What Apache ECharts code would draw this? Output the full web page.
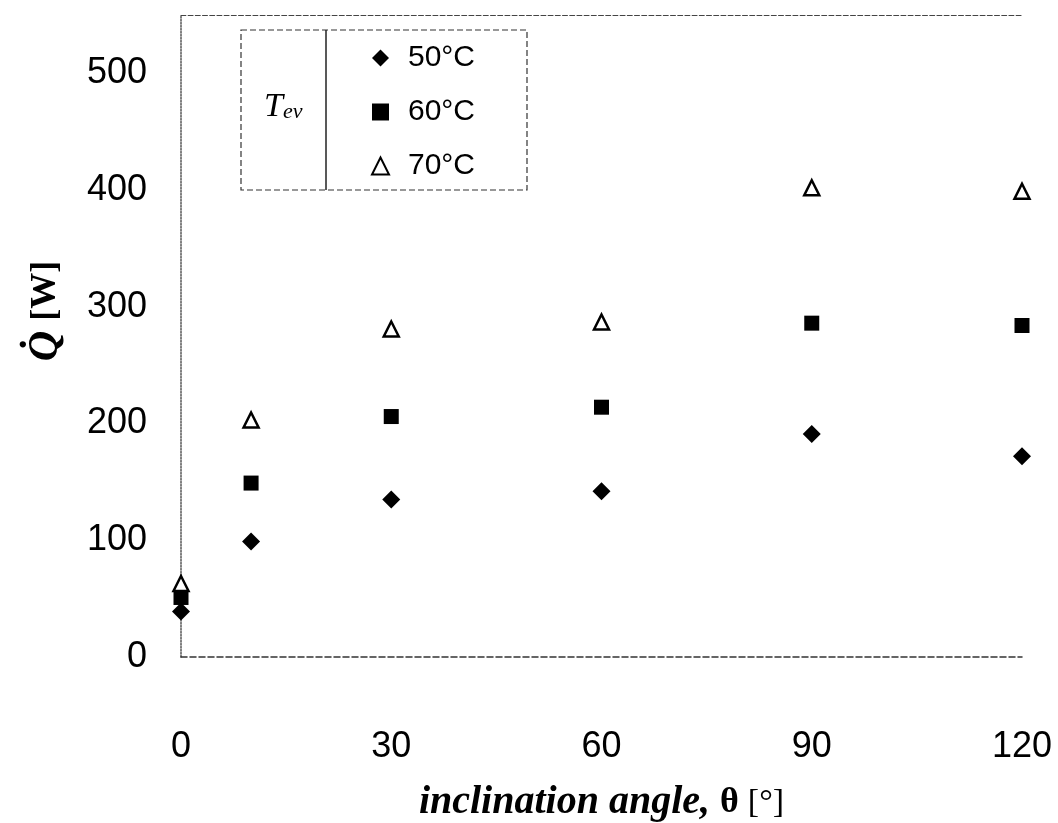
<!DOCTYPE html>
<html>
<head>
<meta charset="UTF-8"/>
<title>Q vs inclination angle</title>
<script src="https://cdn.jsdelivr.net/npm/echarts@6/dist/echarts.min.js"></script>
<style>
	html, body { margin: 0; padding: 0; background: #fff; }
	#chart { width: 1058px; height: 823px; }
</style>
</head>
<body>
<div id="chart"></div>
<script type="text/javascript">
	// inclination angle [deg]
	var angles = [0, 10, 30, 60, 90, 120];
	// heat transfer rate Q [W] per evaporator temperature
	var q50 = [39, 99, 135, 142, 191, 172];
	var q60 = [51, 149, 206, 214, 286, 284];
	var q70 = [63, 203, 281, 287, 402, 399];
	var seriesNames = ['50°C', '60°C', '70°C'];
	var xTicks = [0, 30, 60, 90, 120];
	var yTicks = [0, 100, 200, 300, 400, 500];

	function pairs(ys) {
		var out = [];
		for (var i = 0; i < angles.length; i++) {
			out.push([angles[i], ys[i]]);
		}
		return out;
	}

	var chart = echarts.init(document.getElementById('chart'));
	var option = {
		backgroundColor: '#fff',
		animation: false,
		grid: { left: 181, right: 36, top: 15, bottom: 166, outerBoundsMode: 'none', containLabel: false },
		legend: {
			orient: 'vertical',
			left: 366,
			top: 38,
			itemGap: 24,
			itemWidth: 17,
			itemHeight: 17,
			data: seriesNames,
			textStyle: { fontFamily: 'Liberation Sans', fontSize: 30, color: '#000', padding: [0, 0, 0, 14] }
		},
		xAxis: [{
			type: 'value',
			min: xTicks[0],
			max: xTicks[xTicks.length - 1],
			interval: 30,
			axisLine: { show: true, lineStyle: { color: '#333', type: 'dashed', width: 1.5 } },
			axisTick: { show: false },
			splitLine: { show: false },
			axisLabel: { margin: 72, fontFamily: 'Liberation Sans', fontSize: 36, color: '#000' },
			name: '{b|inclination angle, }{t|θ }{r|[°]}',
			nameLocation: 'middle',
			nameGap: 126,
			nameTextStyle: {
				rich: {
					b: { fontFamily: 'Liberation Serif', fontStyle: 'italic', fontWeight: 'bold', fontSize: 40, color: '#000' },
					t: { fontFamily: 'Liberation Serif', fontWeight: 'bold', fontSize: 36, color: '#000' },
					r: { fontFamily: 'Liberation Serif', fontSize: 34, color: '#000' }
				}
			}
		}, {
			type: 'value',
			position: 'top',
			min: xTicks[0],
			max: xTicks[xTicks.length - 1],
			axisLine: { show: true, lineStyle: { color: '#444', type: 'dashed', width: 1.2 } },
			axisTick: { show: false },
			axisLabel: { show: false },
			splitLine: { show: false }
		}],
		yAxis: {
			type: 'value',
			min: yTicks[0],
			max: 550,
			interval: 100,
			axisLine: { show: true, lineStyle: { color: '#555', type: 'dotted', width: 1.5 } },
			axisTick: { show: false },
			splitLine: { show: false },
			axisLabel: { margin: 34, showMaxLabel: false, fontFamily: 'Liberation Sans', fontSize: 36, color: '#000' },
			name: '{q|Q\u0307}{r|[W]}',
			nameLocation: 'middle',
			nameGap: 114,
			nameRotate: 90,
			nameTextStyle: {
				padding: [0, 0, 0, 50],
				rich: {
					q: { fontFamily: 'Liberation Serif', fontStyle: 'italic', fontWeight: 'bold', fontSize: 42, color: '#000', padding: [0, 10, 0, 0] },
					r: { fontFamily: 'Liberation Serif', fontWeight: 'bold', fontSize: 36, color: '#000' }
				}
			}
		},
		graphic: [{
			type: 'rect',
			shape: { x: 241, y: 30, width: 286, height: 160 },
			style: { fill: 'none', stroke: '#333', lineWidth: 1.2, lineDash: [6, 3] }
		}, {
			type: 'line',
			shape: { x1: 326, y1: 30, x2: 326, y2: 190 },
			style: { stroke: '#222', lineWidth: 1.5 }
		}, {
			type: 'text',
			x: 264,
			y: 90,
			style: {
				text: '{t|T}{s|ev}',
				rich: {
					t: { fontFamily: 'Liberation Serif', fontStyle: 'italic', fontSize: 34, fill: '#000' },
					s: { fontFamily: 'Liberation Serif', fontStyle: 'italic', fontSize: 22, fill: '#000', padding: [10, 0, 0, 0] }
				}
			}
		}],
		series: [{
			name: seriesNames[0],
			type: 'scatter',
			symbol: 'diamond',
			symbolSize: 18,
			itemStyle: { color: '#000', opacity: 1 },
			data: pairs(q50)
		}, {
			name: seriesNames[1],
			type: 'scatter',
			symbol: 'rect',
			symbolSize: 15,
			itemStyle: { color: '#000', opacity: 1 },
			data: pairs(q60)
		}, {
			name: seriesNames[2],
			type: 'scatter',
			symbol: 'triangle',
			symbolSize: 15,
			itemStyle: { color: '#fff', borderColor: '#000', borderWidth: 2.5, opacity: 1 },
			data: pairs(q70)
		}]
	};
	chart.setOption(option);
</script>
</body>
</html>
